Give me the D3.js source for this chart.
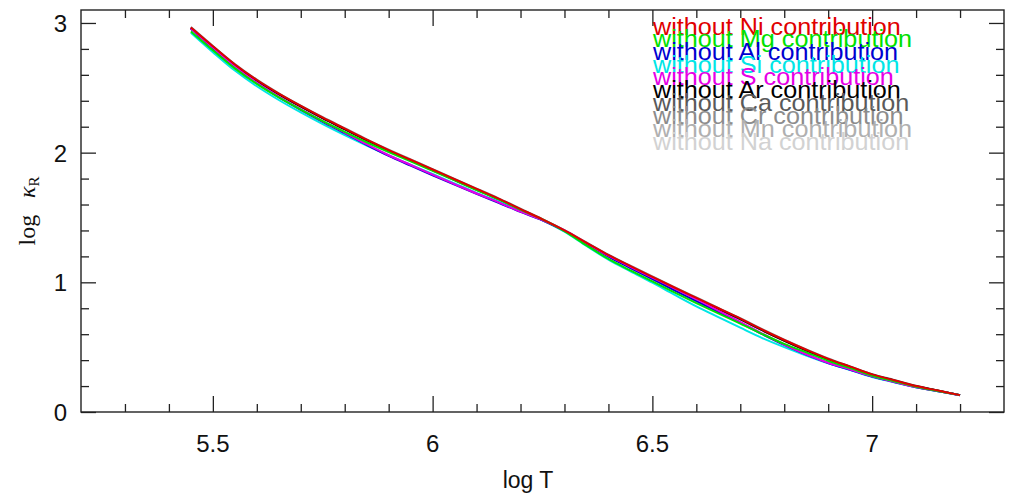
<!DOCTYPE html>
<html>
<head>
<meta charset="utf-8">
<script src="https://cdn.jsdelivr.net/npm/d3@7"></script>
<style>
  html, body { margin: 0; padding: 0; background: #fff; }
  svg { display: block; }
</style>
</head>
<body>
<svg id="chart" width="1015" height="499"></svg>
<script>
// ---- data ----
const logT = [5.45,5.50,5.55,5.60,5.65,5.70,5.75,5.80,5.85,5.90,5.95,6.00,6.05,6.10,6.15,6.20,6.25,6.30,6.35,6.40,6.45,6.50,6.55,6.60,6.65,6.70,6.75,6.80,6.85,6.90,6.95,7.00,7.05,7.10,7.15,7.20];

const kNi = [2.965,2.820,2.680,2.560,2.455,2.360,2.270,2.185,2.100,2.020,1.945,1.870,1.795,1.720,1.645,1.565,1.485,1.400,1.305,1.210,1.125,1.042,0.960,0.880,0.800,0.720,0.635,0.555,0.480,0.410,0.350,0.290,0.245,0.200,0.165,0.130];
const kMg = [2.935,2.790,2.650,2.530,2.426,2.332,2.243,2.160,2.080,2.005,1.933,1.860,1.786,1.712,1.639,1.560,1.485,1.395,1.285,1.180,1.092,1.007,0.922,0.840,0.760,0.682,0.601,0.525,0.460,0.395,0.338,0.280,0.237,0.195,0.162,0.130];
const kAl = [2.955,2.805,2.660,2.535,2.428,2.330,2.238,2.150,2.060,1.975,1.900,1.826,1.753,1.682,1.614,1.543,1.479,1.398,1.297,1.198,1.110,1.024,0.938,0.855,0.772,0.688,0.600,0.517,0.442,0.378,0.326,0.274,0.232,0.191,0.160,0.130];
const kSi = [2.925,2.775,2.633,2.512,2.406,2.310,2.220,2.135,2.055,1.980,1.908,1.835,1.763,1.690,1.623,1.550,1.480,1.390,1.280,1.175,1.085,0.997,0.905,0.815,0.732,0.650,0.570,0.500,0.435,0.375,0.323,0.270,0.230,0.190,0.160,0.130];
const kS  = [2.960,2.810,2.665,2.540,2.433,2.335,2.243,2.155,2.065,1.980,1.905,1.830,1.757,1.685,1.617,1.545,1.480,1.400,1.302,1.205,1.120,1.037,0.953,0.870,0.782,0.695,0.605,0.520,0.445,0.380,0.328,0.275,0.233,0.192,0.161,0.130];
const kAr = [2.962,2.816,2.676,2.556,2.451,2.356,2.266,2.181,2.096,2.016,1.941,1.866,1.791,1.716,1.641,1.561,1.482,1.397,1.302,1.207,1.121,1.038,0.956,0.876,0.796,0.716,0.631,0.551,0.476,0.406,0.347,0.287,0.243,0.198,0.164,0.130];
const kCa = [2.960,2.814,2.674,2.554,2.449,2.354,2.264,2.179,2.094,2.014,1.939,1.864,1.789,1.714,1.639,1.560,1.480,1.395,1.300,1.205,1.119,1.036,0.954,0.874,0.794,0.714,0.629,0.549,0.474,0.405,0.345,0.286,0.242,0.197,0.163,0.130];
const kCr = [2.968,2.823,2.683,2.563,2.458,2.363,2.273,2.188,2.103,2.023,1.948,1.873,1.798,1.723,1.648,1.568,1.488,1.403,1.308,1.213,1.128,1.045,0.963,0.883,0.803,0.723,0.638,0.558,0.483,0.413,0.352,0.292,0.247,0.202,0.166,0.130];
const kMn = [2.963,2.818,2.678,2.558,2.453,2.358,2.268,2.183,2.098,2.018,1.943,1.868,1.793,1.718,1.643,1.563,1.483,1.398,1.303,1.208,1.123,1.040,0.958,0.878,0.798,0.718,0.633,0.553,0.478,0.408,0.348,0.288,0.244,0.199,0.164,0.130];
const kNa = [2.966,2.821,2.681,2.561,2.456,2.361,2.271,2.186,2.101,2.021,1.946,1.871,1.796,1.721,1.646,1.566,1.486,1.401,1.306,1.211,1.126,1.043,0.961,0.881,0.801,0.721,0.636,0.556,0.481,0.411,0.351,0.291,0.246,0.201,0.166,0.130];

const seriesNames = ["Ni","Mg","Al","Si","S","Ar","Ca","Cr","Mn","Na"];
const seriesValues = [kNi,kMg,kAl,kSi,kS,kAr,kCa,kCr,kMn,kNa];
const seriesColors = ["#e00000","#00e000","#0000d0","#00e6e6","#e600e6","#000000","#5a5a5a","#8c8c8c","#b0b0b0","#d2d2d2"];
const legendLabels = seriesNames.map(n => "without " + n + " contribution");

const xMajorTicks = [5.5, 6, 6.5, 7];
const xTickLabels = ["5.5", "6", "6.5", "7"];
const xMinorTicks = [5.3,5.4,5.6,5.7,5.8,5.9,6.1,6.2,6.3,6.4,6.6,6.7,6.8,6.9,7.1,7.2];
const yMajorTicks = [0, 1, 2, 3];
const yTickLabels = ["0", "1", "2", "3"];
const yMinorTicks = [0.2,0.4,0.6,0.8,1.2,1.4,1.6,1.8,2.2,2.4,2.6,2.8];

// ---- layout ----
const L = 81, R = 1004, T = 10, B = 412;
const svg = d3.select("#chart");
const x = d3.scaleLinear().domain([5.2, 7.3]).range([L, R]);
const y = d3.scaleLinear().domain([0, 3.1]).range([B, T]);

const axisColor = "#222";
function styleAxis(g) {
  g.select(".domain").remove();
  g.selectAll(".tick line").attr("stroke", axisColor).attr("stroke-width", 1.3);
  g.selectAll(".tick text").remove();
}

// ticks inward on all four sides
svg.append("g").attr("transform", `translate(0,${B})`)
  .call(d3.axisBottom(x).tickValues(xMajorTicks).tickSize(-16)).call(styleAxis);
svg.append("g").attr("transform", `translate(0,${B})`)
  .call(d3.axisBottom(x).tickValues(xMinorTicks).tickSize(-8)).call(styleAxis);
svg.append("g").attr("transform", `translate(0,${T})`)
  .call(d3.axisTop(x).tickValues(xMajorTicks).tickSize(-16)).call(styleAxis);
svg.append("g").attr("transform", `translate(0,${T})`)
  .call(d3.axisTop(x).tickValues(xMinorTicks).tickSize(-8)).call(styleAxis);
svg.append("g").attr("transform", `translate(${L},0)`)
  .call(d3.axisLeft(y).tickValues(yMajorTicks).tickSize(-15)).call(styleAxis);
svg.append("g").attr("transform", `translate(${L},0)`)
  .call(d3.axisLeft(y).tickValues(yMinorTicks).tickSize(-8)).call(styleAxis);
svg.append("g").attr("transform", `translate(${R},0)`)
  .call(d3.axisRight(y).tickValues(yMajorTicks).tickSize(-15)).call(styleAxis);
svg.append("g").attr("transform", `translate(${R},0)`)
  .call(d3.axisRight(y).tickValues(yMinorTicks).tickSize(-8)).call(styleAxis);

// frame
svg.append("rect").attr("x", L).attr("y", T).attr("width", R - L).attr("height", B - T)
  .attr("fill", "none").attr("stroke", axisColor).attr("stroke-width", 1.4);

// tick labels
const labelFont = "'Liberation Sans', Arial, Helvetica, sans-serif";
svg.append("g").selectAll("text").data(xMajorTicks).join("text")
  .attr("x", d => x(d)).attr("y", 452)
  .attr("text-anchor", "middle").attr("font-family", labelFont).attr("font-size", 24)
  .attr("fill", "#111").text((d, i) => xTickLabels[i]);
svg.append("g").selectAll("text").data(yMajorTicks).join("text")
  .attr("x", 67).attr("y", d => y(d) + 9)
  .attr("text-anchor", "end").attr("font-family", labelFont).attr("font-size", 24)
  .attr("fill", "#111").text((d, i) => yTickLabels[i]);

// axis titles
svg.append("text").attr("x", 528).attr("y", 488).attr("text-anchor", "middle")
  .attr("font-family", labelFont).attr("font-size", 23).attr("fill", "#111").text("log T");

const yt = svg.append("text").attr("transform", "translate(35,211) rotate(-90)")
  .attr("text-anchor", "middle").attr("font-family", "'Liberation Serif', 'Times New Roman', serif")
  .attr("font-size", 24).attr("fill", "#111");
yt.append("tspan").text("log\u2009\u2002");
yt.append("tspan").attr("font-style", "italic").text("\u03BA");
yt.append("tspan").attr("font-size", 15).attr("dy", 4).text("R");

// curves
const line = d3.line().x(d => x(d[0])).y(d => y(d[1])).curve(d3.curveCatmullRom.alpha(0.5));
const drawOrder = [9, 8, 7, 6, 5, 3, 2, 4, 1, 0];
svg.append("g").selectAll("path").data(drawOrder).join("path")
  .attr("d", i => line(logT.map((t, j) => [t, seriesValues[i][j]])))
  .attr("fill", "none").attr("stroke", i => seriesColors[i]).attr("stroke-width", 2);

// legend
const legBase = [35, 47, 59.5, 72.5, 85, 97.5, 111, 124, 137, 150];
const leg = svg.append("g");
legendLabels.forEach((lab, i) => {
  leg.append("text")
    .attr("transform", `translate(653,${legBase[i]}) scale(1.05,1)`)
    .attr("font-family", labelFont).attr("font-size", 24)
    .attr("fill", seriesColors[i]).text(lab);
});
</script>
</body>
</html>
